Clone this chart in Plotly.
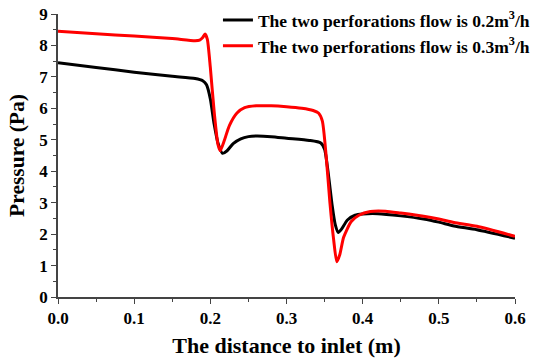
import plotly.graph_objects as go

x_black = [0.0, 0.05, 0.10, 0.15, 0.18, 0.19, 0.195, 0.20, 0.205, 0.21, 0.216, 0.222, 0.23, 0.24, 0.25, 0.26, 0.28, 0.30, 0.33, 0.345, 0.35, 0.355, 0.36, 0.364, 0.368, 0.372, 0.38, 0.39, 0.40, 0.42, 0.45, 0.48, 0.50, 0.52, 0.55, 0.60]
y_black = [7.45, 7.3, 7.15, 7.02, 6.95, 6.88, 6.75, 6.3, 5.5, 4.9, 4.57, 4.65, 4.88, 5.03, 5.1, 5.12, 5.1, 5.05, 4.98, 4.9, 4.7, 3.9, 2.9, 2.3, 2.05, 2.15, 2.45, 2.6, 2.64, 2.65, 2.58, 2.48, 2.38, 2.26, 2.14, 1.87]

x_red = [0.0, 0.05, 0.10, 0.15, 0.18, 0.186, 0.19, 0.193, 0.196, 0.20, 0.205, 0.21, 0.213, 0.218, 0.225, 0.235, 0.245, 0.26, 0.28, 0.30, 0.32, 0.335, 0.342, 0.347, 0.352, 0.357, 0.362, 0.366, 0.37, 0.375, 0.385, 0.395, 0.41, 0.43, 0.45, 0.48, 0.50, 0.52, 0.55, 0.60]
y_red = [8.45, 8.37, 8.3, 8.22, 8.15, 8.17, 8.25, 8.36, 8.2, 7.3, 5.9, 4.85, 4.65, 4.95, 5.45, 5.85, 6.02, 6.08, 6.08, 6.05, 6.0, 5.93, 5.85, 5.6, 4.5, 3.0, 1.8, 1.12, 1.35, 1.9, 2.4, 2.6, 2.72, 2.73, 2.67, 2.57, 2.48, 2.37, 2.25, 1.93]

x_ticks = [0.0, 0.1, 0.2, 0.3, 0.4, 0.5, 0.6]
x_tick_labels = ["0.0", "0.1", "0.2", "0.3", "0.4", "0.5", "0.6"]
y_ticks = [0, 1, 2, 3, 4, 5, 6, 7, 8, 9]

fig = go.Figure()
fig.add_trace(go.Scatter(x=x_black, y=y_black, mode="lines", line=dict(color="black", width=3, shape="spline", smoothing=0.6),
                         name="<b>The two perforations flow is 0.2m<sup>3</sup>/h</b>"))
fig.add_trace(go.Scatter(x=x_red, y=y_red, mode="lines", line=dict(color="#ff0000", width=3, shape="spline", smoothing=0.6),
                         name="<b>The two perforations flow is 0.3m<sup>3</sup>/h</b>"))

font_serif = "Liberation Serif"
fig.update_layout(
    width=537, height=361,
    margin=dict(l=58, r=22, t=14, b=64, autoexpand=False),
    paper_bgcolor="white", plot_bgcolor="white",
    font=dict(family=font_serif, color="black"),
    showlegend=True,
    legend=dict(x=0.35, y=1.042, xanchor="left", yanchor="top", bgcolor="rgba(0,0,0,0)",
                font=dict(family=font_serif, size=17.5, color="black"),
                tracegroupgap=0, itemwidth=30),
    xaxis=dict(range=[0, 0.6], tickvals=x_ticks, ticktext=x_tick_labels, showgrid=False, zeroline=False,
               automargin=False, ticklabeloverflow="allow",
               showline=True, linecolor="#444", linewidth=1.5, ticks="outside", ticklen=5, tickcolor="#444",
               minor=dict(dtick=0.05, ticks="outside", ticklen=3, tickcolor="#444"),
               tickfont=dict(family=font_serif, size=17, weight="bold"),
               title=dict(text="<b>The distance to inlet (m)</b>", font=dict(family=font_serif, size=22), standoff=10)),
    yaxis=dict(range=[0, 9], tickvals=y_ticks, showgrid=False, zeroline=False,
               automargin=False, ticklabeloverflow="allow",
               showline=True, linecolor="#444", linewidth=1.5, ticks="outside", ticklen=5, tickcolor="#444",
               minor=dict(dtick=0.5, ticks="outside", ticklen=3, tickcolor="#444"),
               tickfont=dict(family=font_serif, size=17, weight="bold"),
               title=dict(text="<b>Pressure (Pa)</b>", font=dict(family=font_serif, size=21.5), standoff=9)),
)
fig.write_html("out.html", config={"displayModeBar": False}, post_script="document.body.style.margin='0';")
